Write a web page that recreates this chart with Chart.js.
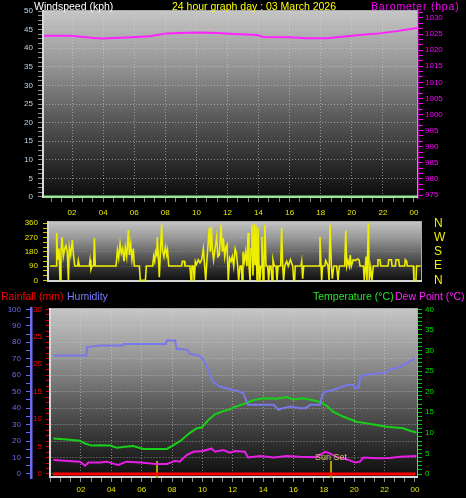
<!DOCTYPE html>
<html>
<head>
<meta charset="utf-8">
<script src="https://cdn.jsdelivr.net/npm/chart.js@4.4.1/dist/chart.umd.min.js"></script>
<style>
    html, body { margin: 0; padding: 0; background: #000; }
    #page { position: relative; width: 466px; height: 498px; overflow: hidden; background: #000; font-family: 'Liberation Sans', Arial, sans-serif; }
    #page canvas { position: absolute; left: 0; top: 0; }
    .lbl { position: absolute; font-size: 10.5px; line-height: 12px; white-space: nowrap; }
</style>
</head>
<body>
<div id="page">
    <canvas id="topChart" width="466" height="498"></canvas>
    <canvas id="dirChart" width="466" height="498"></canvas>
    <canvas id="bottomChart" width="466" height="498"></canvas>
    <div class="lbl" style="left:34px;top:0;color:#ffffff">Windspeed (kph)</div>
    <div class="lbl" style="left:172px;top:0;color:#ffff00">24 hour graph day : 03 March 2026</div>
    <div class="lbl" style="left:371px;top:0;color:#ff00ff;letter-spacing:0.8px">Barometer (hpa)</div>
    <div class="lbl" style="left:1px;top:290px;color:#ff0000">Rainfall (mm)</div>
    <div class="lbl" style="left:67px;top:290px;color:#7a7aff">Humidity</div>
    <div class="lbl" style="left:313px;top:290px;color:#22e822">Temperature (°C)</div>
    <div class="lbl" style="left:395px;top:290px;color:#ff22ff">Dew Point (°C)</div>
</div>
<script>
/* ============================
   Datos (horas del día 0-24)
============================ */
const windSpeedHours = [0.13, 24.26]
const windSpeed = [0, 0]

const pressureHours = [0.13, 1.9, 3.4, 4.0, 5.5, 7.0, 8.1, 9.4, 10.2, 11.3, 12.4, 13.9, 14.3, 16.0, 17.1, 18.4, 19.2, 20.5, 21.8, 22.9, 24.2]
const pressure = [1024.5, 1024.5, 1023.8, 1023.6, 1023.9, 1024.3, 1025.2, 1025.4, 1025.5, 1025.3, 1025.0, 1024.7, 1024.1, 1024.0, 1023.7, 1023.7, 1024.1, 1024.7, 1025.2, 1025.9, 1026.9]

const windDirHours = [
    0.00, 0.39, 0.43, 0.50, 0.58, 0.65, 0.71, 0.78, 0.86, 0.95,
    1.03, 1.12, 1.19, 1.25, 1.34, 1.44, 1.51, 1.60, 1.79, 1.83,
    1.90, 2.54, 2.59, 2.65, 2.72, 2.82, 2.87, 2.93, 4.27, 4.36,
    4.44, 4.53, 4.61, 4.70, 4.79, 4.87, 4.96, 5.07, 5.13, 5.22,
    5.30, 5.39, 5.45, 5.78, 5.84, 6.17, 6.23, 6.64, 6.70, 6.77,
    6.83, 6.90, 6.94, 7.00, 7.07, 7.14, 7.22, 7.28, 7.37, 7.46,
    7.55, 7.60, 7.68, 8.51, 8.56, 8.69, 8.73, 9.05, 9.12, 9.18,
    9.27, 9.33, 9.40, 9.48, 9.59, 9.70, 9.81, 9.92, 10.00, 10.07,
    10.15, 10.24, 10.30, 10.37, 10.43, 10.50, 10.58, 10.67, 10.78, 10.86,
    10.95, 11.06, 11.15, 11.21, 11.30, 11.38, 11.45, 11.53, 11.62, 11.71,
    11.79, 11.88, 11.97, 12.05, 12.14, 12.20, 12.29, 12.38, 12.42, 12.48,
    12.57, 12.65, 12.74, 12.81, 12.87, 12.94, 13.00, 13.06, 13.13, 13.20,
    13.26, 13.32, 13.39, 13.45, 13.52, 13.58, 13.65, 13.71, 13.78, 13.84,
    13.90, 13.97, 14.08, 14.14, 14.21, 14.29, 14.36, 14.42, 14.51, 14.62,
    14.68, 14.75, 14.92, 14.98, 15.05, 15.11, 15.18, 15.31, 15.41, 15.55,
    15.70, 15.76, 15.82, 15.86, 16.23, 16.28, 16.34, 16.41, 17.42, 17.46,
    17.53, 17.57, 17.63, 17.77, 17.83, 17.90, 17.98, 18.05, 18.11, 18.20,
    18.26, 18.35, 18.54, 18.63, 18.71, 19.06, 19.13, 19.19, 19.27, 19.36,
    19.42, 19.49, 19.61, 19.75, 19.88, 19.99, 20.05, 20.27, 20.33, 20.44,
    20.50, 20.59, 20.65, 20.74, 20.82, 20.91, 21.17, 21.21, 21.34, 21.39,
    21.86, 21.91, 22.08, 22.12, 22.34, 22.38, 22.55, 22.60, 22.94, 22.98,
    23.07, 23.11, 23.50, 23.54, 23.67, 23.71, 23.97
]
const windDir = [
    90, 90, 297, 130, 200, 0, 180, 270, 150, 200,
    220, 180, 0, 210, 160, 255, 170, 90, 90, 125,
    90, 90, 130, 70, 90, 90, 265, 90, 90, 190,
    140, 230, 170, 200, 120, 210, 150, 318, 160, 230,
    130, 200, 90, 90, 0, 0, 90, 90, 150, 120,
    180, 160, 270, 170, 20, 180, 350, 190, 150, 210,
    160, 190, 90, 90, 120, 120, 90, 90, 0, 90,
    90, 0, 120, 100, 130, 110, 130, 200, 90, 0,
    130, 250, 330, 180, 340, 200, 130, 200, 275, 150,
    160, 350, 180, 265, 150, 210, 225, 0, 140, 120,
    150, 90, 200, 175, 90, 0, 90, 90, 0, 180,
    120, 180, 90, 300, 90, 0, 200, 350, 30, 355,
    100, 345, 0, 330, 90, 0, 90, 275, 0, 90,
    350, 90, 90, 0, 90, 90, 0, 130, 90, 90,
    0, 90, 90, 330, 90, 0, 90, 120, 90, 130,
    90, 0, 0, 90, 90, 120, 10, 90, 90, 275,
    90, 0, 90, 90, 125, 110, 90, 0, 350, 90,
    10, 90, 90, 0, 90, 90, 315, 90, 125, 90,
    160, 90, 130, 125, 135, 130, 90, 90, 0, 150,
    0, 360, 0, 80, 0, 90, 90, 130, 130, 90,
    90, 130, 130, 90, 90, 130, 130, 90, 90, 130,
    120, 90, 90, 0, 0, 90, 90
]
const dirValues = [0, 90, 180, 270, 360]
const dirLetters = ['N', 'E', 'S', 'W', 'N']

const rainHours = [0.15, 24.0]
const rainfall = [0, 0]

const humHours = [0.2, 2.35, 2.4, 2.8, 3.2, 4.75, 4.8, 7.6, 7.65, 8.2, 8.3, 9.0, 9.2, 9.7, 10.0, 10.2, 10.7, 11.2, 11.8, 12.3, 12.7, 13.0, 14.7, 15.0, 15.3, 15.8, 16.4, 16.8, 17.1, 17.75, 17.9, 18.1, 18.6, 19.5, 19.95, 20.05, 20.3, 20.4, 20.7, 21.3, 22.1, 22.25, 23.0, 23.5, 24.0]
const humidity = [72, 72, 77, 77.5, 78, 78, 79, 79, 81, 81, 76, 75.5, 73, 72, 70.5, 67, 56, 53, 51.5, 50.5, 49, 42, 42, 39, 40, 41, 40, 40, 42, 42, 48.5, 50, 51, 54, 54, 52, 52.5, 59.5, 60, 61, 61.5, 63, 65, 67.5, 70]

const tempHours = [0.18, 1.06, 1.94, 2.27, 2.71, 3.25, 3.91, 4.35, 4.9, 5.45, 6.1, 7.65, 8.1, 8.6, 9.18, 9.62, 9.95, 10.39, 10.83, 11.38, 11.82, 12.04, 12.7, 13.36, 14.0, 14.9, 15.55, 16.0, 16.6, 17.3, 17.75, 18.2, 18.63, 19.3, 20.16, 20.82, 21.48, 22.13, 23.23, 23.67, 24.1]
const temperature = [8.6, 8.4, 8.1, 7.4, 6.9, 7.0, 6.9, 6.4, 6.6, 6.8, 6.1, 6.1, 7.0, 8.2, 10.0, 11.1, 11.3, 13.1, 14.5, 15.3, 15.7, 16.2, 17.0, 17.9, 18.4, 18.3, 18.7, 18.1, 18.4, 17.9, 17.5, 16.5, 15.1, 13.9, 12.7, 12.3, 11.9, 11.5, 11.1, 10.5, 10.1]

const dewHours = [0.18, 1.94, 2.27, 2.49, 3.25, 3.69, 4.24, 4.46, 5.0, 5.9, 7.0, 7.65, 8.2, 8.5, 8.96, 9.4, 10.06, 10.6, 10.83, 11.38, 11.82, 12.15, 12.8, 13.0, 13.8, 14.7, 15.55, 16.4, 17.5, 18.08, 18.4, 18.85, 19.5, 20.05, 20.38, 20.6, 21.48, 22.35, 23.0, 24.1]
const dewPoint = [3.4, 3.0, 2.0, 2.8, 2.8, 3.0, 2.4, 2.2, 3.0, 2.8, 2.4, 2.4, 3.2, 3.0, 4.6, 5.4, 5.6, 6.2, 5.4, 5.8, 5.2, 5.6, 5.4, 4.0, 4.4, 4.0, 4.4, 4.2, 4.1, 5.4, 5.0, 4.1, 3.6, 2.8, 3.0, 4.0, 3.8, 3.9, 4.2, 4.4]

const sunHours = [7.0, 18.45]
const sunLabels = ['', 'Sun Set']

/* ============================
   Helpers
============================ */
const FONT_FAMILY = "'Liberation Sans', Arial, sans-serif"
const GRID_DOT = 'rgba(215,215,215,0.55)'
const PLOT_STOPS = [[0, '#c6c6c6'], [0.3, '#949494'], [0.55, '#5e5e5e'], [0.8, '#2e2e2e'], [1, '#0c0c0c']]

const points = (xs, ys) => xs.map((x, i) => ({ x, y: ys[i] }))
const isMultiple = (v, step) => Math.abs(v / step - Math.round(v / step)) < 1e-6

function range(from, to, step) {
    const out = []
    for (let i = 0; from + i * step <= to + 1e-9; i++) out.push(Math.round((from + i * step) * 1e4) / 1e4)
    return out
}

function yAxis(o) {
    return {
        type: 'linear',
        position: o.position,
        weight: o.weight || 0,
        min: o.min,
        max: o.max,
        afterBuildTicks: s => { s.ticks = o.ticks.map(v => ({ value: v })) },
        afterFit: s => { s.width = o.width },
        border: Object.assign({ display: false, dash: [1, 2] }, o.border),
        grid: {
            drawOnChartArea: !!o.grid,
            drawTicks: o.tickLength > 0,
            color: c => (o.grid && c.tick && isMultiple(c.tick.value, o.grid.every)) ? o.grid.color : 'transparent',
            tickColor: o.tickColor,
            tickLength: o.tickLength,
            tickBorderDash: []
        },
        ticks: {
            color: o.color,
            font: { family: FONT_FAMILY, size: o.fontSize || 8 },
            padding: o.padding,
            autoSkip: false,
            callback: o.label
        }
    }
}

function timeAxis(min, max, padding) {
    const isEven = v => isMultiple(v, 2) && v > 0.5
    return {
        type: 'linear',
        position: 'bottom',
        min,
        max,
        afterBuildTicks: s => { s.ticks = range(0, 24, 2 / 3).filter(v => v >= min && v <= max).map(v => ({ value: v })) },
        afterFit: s => { s.height = 20 },
        border: { display: false, dash: [1, 2] },
        grid: {
            color: c => (c.tick && isEven(c.tick.value) && c.tick.value < 23.5) ? GRID_DOT : 'transparent',
            tickColor: '#8c8c8c',
            tickLength: 4,
            tickBorderDash: []
        },
        ticks: {
            color: '#e8e800',
            font: { family: FONT_FAMILY, size: 8 },
            padding,
            autoSkip: false,
            maxRotation: 0,
            minRotation: 0,
            callback: v => isEven(v) ? String(Math.round(v) % 24).padStart(2, '0') : ''
        }
    }
}

// Fondo degradado + marco claro (izquierda/abajo) como en el original
function plotFrame() {
    return {
        id: 'plotFrame',
        beforeDraw(chart) {
            const { ctx, chartArea: a } = chart
            const g = ctx.createLinearGradient(0, a.top, 0, a.bottom)
            PLOT_STOPS.forEach(([p, c]) => g.addColorStop(p, c))
            ctx.save()
            ctx.fillStyle = g
            ctx.fillRect(a.left, a.top, a.right - a.left, a.bottom - a.top)
            ctx.restore()
        },
        beforeDatasetsDraw(chart) {
            const { ctx, chartArea: a } = chart
            ctx.save()
            ctx.strokeStyle = '#a8a8a8'
            ctx.lineWidth = 1
            ctx.beginPath()
            ctx.moveTo(a.left, a.top + 0.5)
            ctx.lineTo(a.right - 0.5, a.top + 0.5)
            ctx.lineTo(a.right - 0.5, a.bottom)
            ctx.stroke()
            ctx.strokeStyle = '#d8d8d8'
            ctx.lineWidth = 2
            ctx.beginPath()
            ctx.moveTo(a.left, a.bottom - 1)
            ctx.lineTo(a.right, a.bottom - 1)
            ctx.stroke()
            ctx.restore()
        },
        afterDatasetsDraw(chart) {
            const { ctx, chartArea: a } = chart
            ctx.save()
            ctx.fillStyle = '#d8d8d8'
            ctx.fillRect(a.left - 1, a.top, 2, a.bottom - a.top)
            ctx.restore()
        }
    }
}

const sunMarkers = {
    id: 'sunMarkers',
    beforeDatasetsDraw(chart) {
        const { ctx, chartArea: a, scales: { x } } = chart
        ctx.save()
        ctx.strokeStyle = '#b0a000'
        ctx.lineWidth = 2
        sunHours.forEach(h => {
            const px = Math.round(x.getPixelForValue(h))
            ctx.beginPath()
            ctx.moveTo(px, a.bottom)
            ctx.lineTo(px, a.bottom - 17)
            ctx.stroke()
        })
        ctx.restore()
    },
    afterDatasetsDraw(chart) {
        const { ctx, chartArea: a, scales: { x } } = chart
        ctx.save()
        ctx.fillStyle = '#d4c46c'
        ctx.font = `9px ${FONT_FAMILY}`
        ctx.textAlign = 'center'
        ctx.textBaseline = 'alphabetic'
        sunHours.forEach((h, i) => {
            if (sunLabels[i]) ctx.fillText(sunLabels[i], Math.round(x.getPixelForValue(h)), a.bottom - 18.5)
        })
        ctx.restore()
    }
}

const baseOptions = (padding, scales) => ({
    responsive: false,
    animation: false,
    events: [],
    layout: { padding },
    plugins: { legend: { display: false }, tooltip: { enabled: false } },
    elements: { point: { radius: 0 }, line: { tension: 0 } },
    scales
})

// ============================
// Viento / Barómetro
// ============================
new Chart(document.getElementById('topChart'), {
    type: 'line',
    data: {
        datasets: [
            { label: 'Barometer', data: points(pressureHours, pressure), yAxisID: 'baro', borderColor: '#ff22ff', borderWidth: 2 },
            { label: 'Windspeed', data: points(windSpeedHours, windSpeed), yAxisID: 'speed', borderColor: '#98e898', borderWidth: 3, borderCapStyle: 'butt' }
        ]
    },
    options: baseOptions({ top: 10, left: 0, right: 0, bottom: 280 }, {
        x: timeAxis(0.13, 24.26, 6),
        speed: yAxis({
            position: 'left', min: -0.27, max: 50.27, width: 43,
            ticks: range(0, 50, 1.25), tickLength: 5, padding: 5,
            color: '#b8d8f0', tickColor: '#909090',
            grid: { every: 5, color: GRID_DOT },
            label: v => isMultiple(v, 5) ? String(v) : ''
        }),
        baro: yAxis({
            position: 'right', min: 974.08, max: 1032.46, width: 48,
            ticks: range(975, 1031.7, 5 / 3), tickLength: 5, padding: 2,
            color: '#ff00ff', tickColor: '#ff00ff',
            border: { display: true, color: '#ff00ff', width: 1.5 },
            label: v => isMultiple(v, 5) ? String(Math.round(v)) : ''
        })
    }),
    plugins: [plotFrame()]
})

// ============================
// Dirección del viento
// ============================
new Chart(document.getElementById('dirChart'), {
    type: 'line',
    data: {
        datasets: [
            { label: 'Wind direction', data: points(windDirHours, windDir), yAxisID: 'deg', borderColor: '#eeee00', borderWidth: 1.6 }
        ]
    },
    options: baseOptions({ top: 221, left: 0, right: 0, bottom: 216 }, {
        x: { type: 'linear', min: -0.13, max: 24.06, display: false },
        deg: yAxis({
            position: 'left', min: -10.7, max: 374.5, width: 48,
            ticks: range(0, 360, 30), tickLength: 5, padding: 5,
            color: '#e8e800', tickColor: '#c8c800',
            grid: { every: 90, color: 'rgba(210,210,210,0.25)' },
            label: v => isMultiple(v, 90) ? String(v) : ''
        }),
        compass: yAxis({
            position: 'right', min: -10.7, max: 374.5, width: 44,
            ticks: dirValues, tickLength: 0, padding: 12, fontSize: 12,
            color: '#f0f000', tickColor: 'transparent',
            label: v => dirLetters[dirValues.indexOf(v)]
        })
    }),
    plugins: [plotFrame()]
})

// ============================
// Lluvia / Humedad / Temperatura
// ============================
new Chart(document.getElementById('bottomChart'), {
    type: 'line',
    data: {
        datasets: [
            { label: 'Rainfall', data: points(rainHours, rainfall), yAxisID: 'rain', borderColor: '#ff0000', borderWidth: 3, order: 0 },
            { label: 'Humidity', data: points(humHours, humidity), yAxisID: 'hum', borderColor: '#7878e8', borderWidth: 2, order: 1 },
            { label: 'Temperature', data: points(tempHours, temperature), yAxisID: 'temp', borderColor: '#18d018', borderWidth: 2, order: 2 },
            { label: 'Dew Point', data: points(dewHours, dewPoint), yAxisID: 'temp', borderColor: '#e81ee8', borderWidth: 2, order: 3 }
        ]
    },
    options: baseOptions({ top: 308, left: 0, right: 0, bottom: 0 }, {
        x: timeAxis(-0.04, 24.2, 3),
        hum: yAxis({
            position: 'left', weight: 2, min: -2.43, max: 100.8, width: 31,
            ticks: range(0, 100, 5), tickLength: 5, padding: 5,
            color: '#6a6af0', tickColor: '#6a6af0',
            border: { display: true, color: '#6c6cf0', width: 2.5 },
            grid: { every: 10, color: GRID_DOT },
            label: v => isMultiple(v, 10) ? String(v) : ''
        }),
        rain: yAxis({
            position: 'left', weight: 1, min: -0.73, max: 30.24, width: 19,
            ticks: range(0, 30, 1), tickLength: 4, padding: 4,
            color: '#ff0000', tickColor: '#e00000',
            label: v => isMultiple(v, 5) ? String(v) : ''
        }),
        temp: yAxis({
            position: 'right', min: -0.97, max: 40.32, width: 48,
            ticks: range(0, 40, 1), tickLength: 4, padding: 3,
            color: '#00e000', tickColor: '#00c800',
            label: v => isMultiple(v, 5) ? String(v) : ''
        })
    }),
    plugins: [plotFrame(), sunMarkers]
})
</script>
</body>
</html>
